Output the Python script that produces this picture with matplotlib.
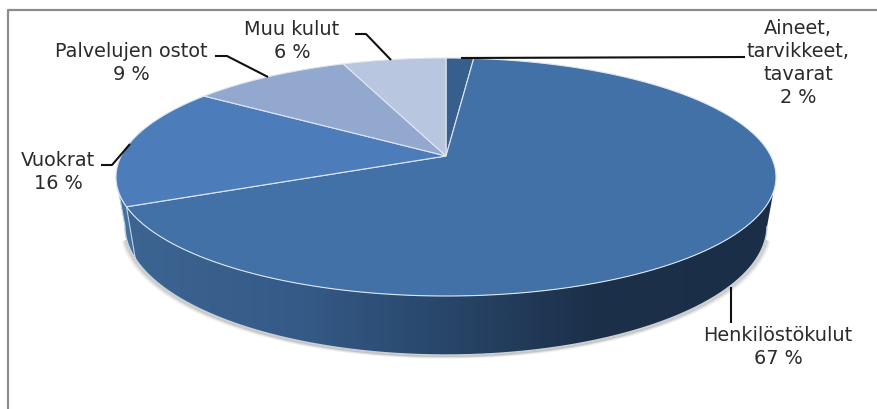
import matplotlib
matplotlib.use("Agg")
import matplotlib.pyplot as plt
import numpy as np
from matplotlib.colors import LinearSegmentedColormap
from matplotlib.patches import Polygon

# Shares, clockwise from 12 o'clock
labels = [["Aineet,", "tarvikkeet,", "tavarat"], ["Henkilöstökulut"], ["Vuokrat"],
          ["Palvelujen ostot"], ["Muu kulut"]]
shares = [1.6, 66.7, 16.4, 9.3, 6]
colors = ["#375f8d", "#4271a7", "#4c7dba", "#93a8cf", "#b8c6e0"]

# Text anchors: centre x, first baseline y
text_pos = [(798, 34), (778, 341), (58, 166), (131, 57), (292, 35)]
leaders = [
    [(461, 58), (745, 57)],
    [(731, 287), (731, 323)],
    [(101, 165), (112, 165), (130, 144)],
    [(215, 56), (227, 56), (268, 77)],
    [(355, 34), (366, 34), (391, 60)],
]

# Pie geometry in pixels
APEX_X, APEX_Y = 446, 156
TOP_RX, TOP_RY, TOP_CY = 330, 119, 177
BOT_RX, BOT_RY, BOT_CY = 321, 129, 226
P = 0.1765
A = 115.3
B = TOP_RX * np.sqrt(1 - P ** 2)


def rim(share):
    # share in percent, clockwise from the top, with the perspective of the tilted disc
    t = np.radians(np.asarray(share) * 3.6)
    u, v = np.sin(t), np.cos(t)
    w = 1 + P * v
    return APEX_X + B * u / w, APEX_Y - A * v / w


def bottom(x, y):
    return (APEX_X + (x - APEX_X) * BOT_RX / TOP_RX,
            BOT_CY + (y - TOP_CY) * BOT_RY / TOP_RY)


fig = plt.figure(figsize=(8.77, 4.09), dpi=100)
ax = fig.add_axes([0, 0, 1, 1])

edges = np.concatenate([[0], np.cumsum(shares)])

# Soft shadow under the wall, only on the lower part of the rim
s = np.linspace(0, 100, 721)
sx, sy = rim(s)
front = sy >= TOP_CY
order = np.argsort(sx[front])
fx, fy = sx[front][order], sy[front][order]
bx, by = bottom(fx, fy)
low = by > BOT_CY + 14
for off, alpha in [(4, 0.05), (3, 0.08), (2, 0.12), (1, 0.2)]:
    ax.plot((bx - off * (fx < APEX_X) + off * (fx > APEX_X))[low], by[low] + off * 0.6,
            color="#606060", alpha=alpha, lw=2, zorder=1)

# Wall, darkening to the right
wall_cmap = LinearSegmentedColormap.from_list(
    "wall", [(0, "#3d6593"), (0.28, "#355a87"), (0.5, "#284669"), (0.72, "#1c304a"), (1, "#1b2e47")])
wall_patch = Polygon(np.column_stack([np.r_[fx, bx[::-1]], np.r_[fy, by[::-1]]]), closed=True,
                     facecolor="none", edgecolor="none", transform=ax.transData)
ax.add_patch(wall_patch)
img = ax.imshow(np.linspace(0, 1, 512)[None, :], cmap=wall_cmap, extent=(117, 776, 360, 170),
                aspect="auto", zorder=2)
img.set_clip_path(wall_patch)
ax.plot(bx, by, color="#c8d0d8", lw=1, zorder=3)

# Wall piece of the Vuokrat slice
ss = np.linspace(edges[2], edges[3], 200)
vx, vy = rim(ss)
keep = vy >= TOP_CY
vx, vy = vx[keep], vy[keep]
vbx, vby = bottom(vx, vy)
ax.fill(np.r_[vx, vbx[::-1]], np.r_[vy, vby[::-1]], color="#44709f", ec="#c4d2e2", lw=0.8, zorder=3)

# Top face
for i in range(len(shares)):
    ss = np.linspace(edges[i], edges[i + 1], 200)
    x, y = rim(ss)
    ax.fill(np.r_[APEX_X, x], np.r_[APEX_Y, y], facecolor=colors[i], edgecolor="#dfe6f0", lw=0.8, zorder=4)

# Leader lines and labels
for pts in leaders:
    ax.plot(*zip(*pts), color="#111111", lw=1.5, zorder=5, solid_capstyle="butt")

for lines, share, (cx, base) in zip(labels, shares, text_pos):
    for k, line in enumerate(lines + [f"{round(share)} %"]):
        ax.text(cx, base + k * 23, line, ha="center", va="baseline", fontsize=13.9,
                color="#2b2b2b", family="DejaVu Sans", zorder=6)

# Chart frame, cropped at the right and bottom
ax.plot([8, 8, 877], [409, 10, 10], color="#8c8c8c", lw=1.6, zorder=0)

ax.set_xlim(0, 877)
ax.set_ylim(409, 0)
ax.axis("off")
fig.savefig("out.png", dpi=100, facecolor="white")
